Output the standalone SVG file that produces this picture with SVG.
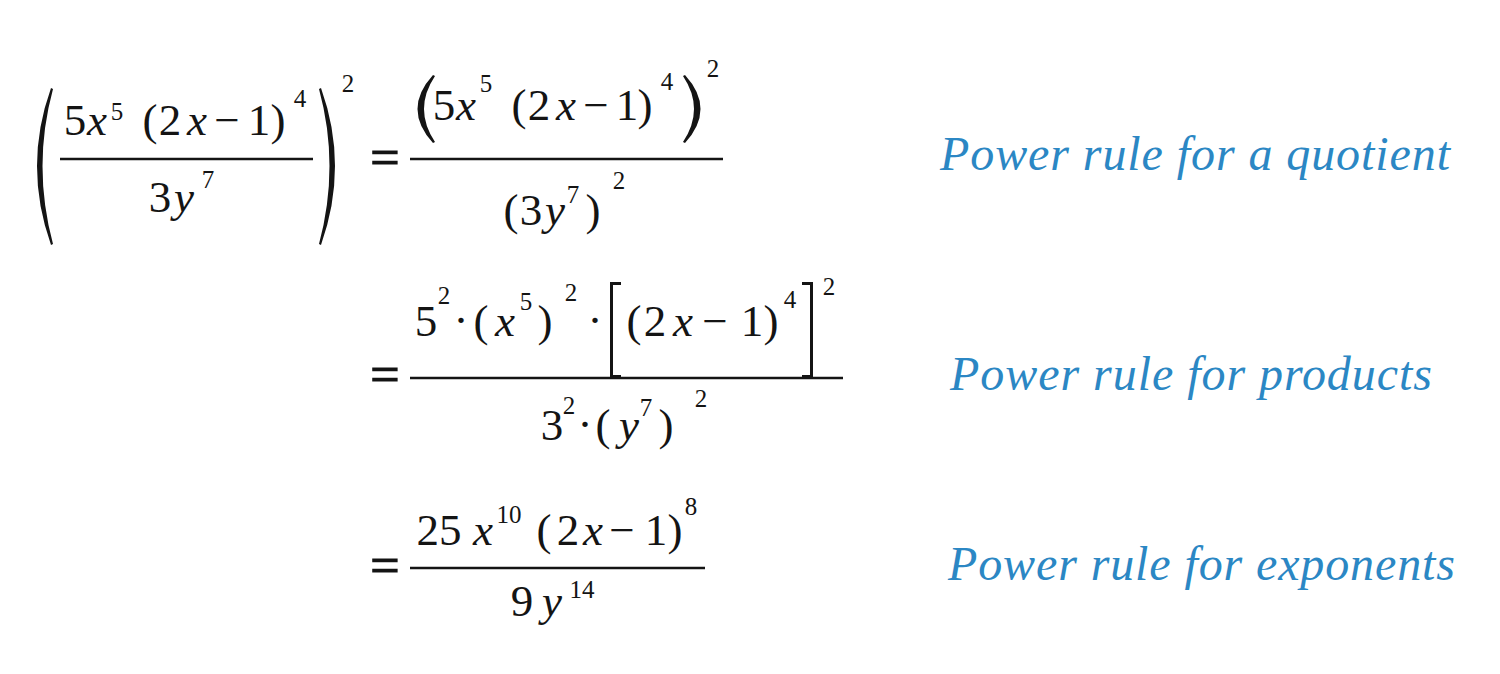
<svg xmlns="http://www.w3.org/2000/svg" width="1500" height="674" viewBox="0 0 1500 674">
<style>
text{font-family:"Liberation Serif","DejaVu Serif",serif;fill:#141414;text-anchor:middle}
.m{font-size:45px}
.i{font-style:italic}
.s{font-size:25px}
.eq{font-size:52px;stroke:#141414;stroke-width:1.2}
.lbl{font-size:48px;font-style:italic;fill:#2b87c4;text-anchor:start}
.bar{stroke:#141414;stroke-width:2.6;fill:none}
.br{stroke:#141414;stroke-width:3;fill:none}
.pn{fill:#141414}
</style>
<rect width="1500" height="674" fill="#ffffff"/>

<g id="row1-left">
  <path class="pn" d="M51,88 Q23,166 51,245 L53,244 Q32,166 53,89 Z"/>
  <text class="m" x="75" y="135">5</text>
  <text class="m i" x="97" y="135">x</text>
  <text class="s" x="117" y="120">5</text>
  <text class="m" x="150" y="135">(</text>
  <text class="m" x="170" y="135">2</text>
  <text class="m i" x="197" y="135">x</text>
  <text class="m" x="227" y="135">−</text>
  <text class="m" x="259" y="135">1</text>
  <text class="m" x="278" y="135">)</text>
  <text class="s" x="300" y="107">4</text>
  <line class="bar" x1="60" y1="159" x2="313" y2="159"/>
  <text class="m" x="160" y="212">3</text>
  <text class="m i" x="184" y="212">y</text>
  <text class="s" x="208" y="188">7</text>
  <path class="pn" d="M321,88 Q349,166 321,245 L319,244 Q340,166 319,89 Z"/>
  <text class="s" x="348" y="92">2</text>
</g>

<g id="row1-right">
  <text class="eq" x="385" y="175">=</text>
  <path class="pn" d="M433,75 Q402,109 433,143 L435,142 Q413,109 435,76 Z"/>
  <text class="m" x="444" y="120">5</text>
  <text class="m i" x="466" y="120">x</text>
  <text class="s" x="486" y="92">5</text>
  <text class="m" x="519" y="120">(</text>
  <text class="m" x="539" y="120">2</text>
  <text class="m i" x="566" y="120">x</text>
  <text class="m" x="596" y="120">−</text>
  <text class="m" x="627" y="120">1</text>
  <text class="m" x="645" y="120">)</text>
  <text class="s" x="667" y="90">4</text>
  <path class="pn" d="M685,75 Q716,109 685,143 L683,142 Q705,109 683,76 Z"/>
  <text class="s" x="713" y="77">2</text>
  <line class="bar" x1="410" y1="159" x2="723" y2="159"/>
  <text class="m" x="511" y="225">(</text>
  <text class="m" x="531" y="225">3</text>
  <text class="m i" x="555" y="225">y</text>
  <text class="s" x="573" y="203">7</text>
  <text class="m" x="593" y="225">)</text>
  <text class="s" x="619" y="189">2</text>
</g>

<g id="row2">
  <text class="eq" x="385" y="392">=</text>
  <text class="m" x="426" y="336">5</text>
  <text class="s" x="444" y="304">2</text>
  <text class="m" x="461" y="335">·</text>
  <text class="m" x="481" y="336">(</text>
  <text class="m i" x="505" y="336">x</text>
  <text class="s" x="526" y="310">5</text>
  <text class="m" x="545" y="336">)</text>
  <text class="s" x="571" y="301">2</text>
  <text class="m" x="595" y="335">·</text>
  <path class="br" d="M621,283.5 H611.5 V376.5 H621"/>
  <text class="m" x="634" y="336">(</text>
  <text class="m" x="655" y="336">2</text>
  <text class="m i" x="683" y="336">x</text>
  <text class="m" x="715" y="336">−</text>
  <text class="m" x="752" y="336">1</text>
  <text class="m" x="771" y="336">)</text>
  <text class="s" x="790" y="308">4</text>
  <path class="br" d="M802,283.5 H811.5 V376.5 H802"/>
  <text class="s" x="829" y="295">2</text>
  <line class="bar" x1="410" y1="378" x2="843" y2="378"/>
  <text class="m" x="552" y="440">3</text>
  <text class="s" x="569" y="414">2</text>
  <text class="m" x="585" y="439">·</text>
  <text class="m" x="603" y="440">(</text>
  <text class="m i" x="629" y="440">y</text>
  <text class="s" x="646" y="416">7</text>
  <text class="m" x="666" y="440">)</text>
  <text class="s" x="701" y="407">2</text>
</g>

<g id="row3">
  <text class="eq" x="385" y="583">=</text>
  <text class="m" x="439" y="545">25</text>
  <text class="m i" x="483" y="545">x</text>
  <text class="s" x="509" y="523">10</text>
  <text class="m" x="544" y="545">(</text>
  <text class="m" x="568" y="545">2</text>
  <text class="m i" x="593" y="545">x</text>
  <text class="m" x="622" y="545">−</text>
  <text class="m" x="656" y="545">1</text>
  <text class="m" x="675" y="545">)</text>
  <text class="s" x="691" y="515">8</text>
  <line class="bar" x1="410" y1="568" x2="705" y2="568"/>
  <text class="m" x="522" y="616">9</text>
  <text class="m i" x="552" y="616">y</text>
  <text class="s" x="582" y="598">14</text>
</g>

<g id="labels">
  <text class="lbl" x="940" y="170" textLength="510" lengthAdjust="spacing">Power rule for a quotient</text>
  <text class="lbl" x="950" y="390" textLength="482" lengthAdjust="spacing">Power rule for products</text>
  <text class="lbl" x="948" y="580" textLength="507" lengthAdjust="spacing">Power rule for exponents</text>
</g>
</svg>
